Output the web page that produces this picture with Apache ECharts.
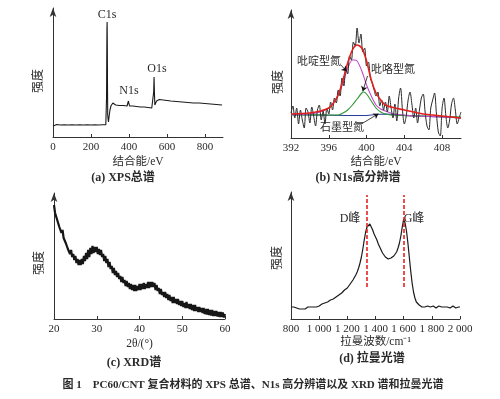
<!DOCTYPE html>
<html>
<head>
<meta charset="utf-8">
<script src="https://cdn.jsdelivr.net/npm/echarts@6/dist/echarts.min.js"></script>
<style>
html, body { margin: 0; padding: 0; background: #fff; }
#main { width: 500px; height: 399px; }
</style>
</head>
<body>
<div id="main"></div>
<script>
// (a) XPS 总谱
var xpsX = [0, 5, 10, 20, 40, 60, 80, 100, 120, 140, 160, 180, 200, 220, 240, 260, 278, 280, 282, 283, 284, 285, 286, 287, 288, 290, 292, 295, 300, 305, 310, 315, 320, 330, 340, 350, 360, 370, 380, 390, 395, 397, 399, 401, 403, 410, 420, 440, 460, 480, 500, 520, 526, 528, 530, 532, 534, 536, 540, 545, 550, 555, 560, 580, 600, 620, 650, 680, 710, 740, 770, 800, 830, 860, 890];
var xpsY = [11, 12, 13, 12.5, 12, 12.3, 12, 12.2, 12, 12.3, 12, 12.2, 12, 12.3, 12, 12.2, 12.3, 14, 40, 80, 108, 115, 90, 50, 22, 18, 15, 20, 27, 31, 33, 34, 33, 32, 31.5, 31.5, 31, 31.5, 31, 31, 32, 36, 38, 34, 31, 30.5, 31, 30.5, 30, 30, 29.5, 29, 29, 30, 45, 60, 45, 32, 33, 36, 37, 38, 37.5, 37, 36.5, 36, 35.5, 35, 34.5, 34, 34, 33.5, 33, 32.5, 32];
var xpsPeaks = [['C1s', 285, 115], ['N1s', 399, 38], ['O1s', 532, 60]];

// (b) N1s 高分辨谱
var n1sStart = 392, n1sStep = 0.2;
var n1sRaw = [25, 32, 20, 30, 14, 28, 18, 10, 30, 26,
  15, 31, 22, 12, 28, 33, 18, 27, 14, 30,
  24, 36, 28, 40, 35, 48, 42, 60, 52, 70,
  64, 82, 78, 96, 92, 110, 95, 104, 86, 90,
  72, 76, 60, 55, 48, 42, 46, 32, 38, 28,
  36, 26, 42, 30, 20, 34, 17, 40, 50, 28,
  14, 22, 38, 46, 34, 20, 30, 15, 28, 40,
  44, 26, 12, 8, 30, 38, 45, 24, 6, 2,
  30, 40, 22, 10, 18, 34, 40, 28, 14, 20, 26];
var fitX = [392, 394, 395, 396, 396.5, 397, 397.5, 398, 398.5, 399, 399.5, 400, 400.5, 401, 401.5, 402, 403, 404, 405, 406, 407, 408, 409, 410];
var fitTotal = [24, 25, 26.7, 30, 35, 43, 58, 75, 88, 93, 90, 77, 58, 45, 38, 33, 30, 28, 26, 24, 23, 22, 21, 20];
var pyridX = [392, 394, 395, 396, 396.5, 397, 397.5, 398, 398.5, 398.7, 399, 399.5, 400, 400.5, 401, 401.5, 402, 403, 404, 405, 406, 408, 410];
var pyridY = [23.3, 24, 25.7, 30, 35, 43, 55, 70, 78, 78, 77, 67, 53, 42, 33, 29, 27, 24, 23, 22, 21.7, 21, 20];
var pyrrolX = [392, 396, 397, 397.5, 398, 398.5, 399, 399.5, 399.7, 400, 400.5, 401, 401.5, 402, 403, 410];
var pyrrolY = [23.3, 23, 23, 25, 28, 33, 39, 45, 46, 44, 37, 30, 26, 24, 22.7, 21];
var graphX = [392, 398, 400, 401, 402, 403, 404, 410];
var graphY = [23.3, 22.5, 22.5, 23.5, 24, 23.5, 22.5, 20.3];
var n1sNotes = [
  ['吡啶型氮', [397.28, 73], [397.9, 66.7]],
  ['吡咯型氮', [400.1, 62], [399.6, 46.7]],
  ['石墨型氮', [399.5, 14.3], [401.26, 24.3]]
];

// (c) XRD 谱, 2θ 20~60 步长 0.25
var xrdStart = 20, xrdStep = 0.25;
var xrdRaw = [114, 106, 107, 99, 100, 92, 93, 86, 89, 81, 82, 76, 76, 70, 71, 65,
  69, 62, 65, 59, 63, 56, 60, 54, 59, 54, 60, 55, 63, 58, 66, 60,
  69, 62, 71, 65, 73, 66, 72, 67, 72, 65, 70, 64, 69, 62, 65, 58,
  63, 56, 60, 52, 57, 50, 53, 46, 51, 44, 48, 42, 46, 40, 43, 37,
  42, 36, 39, 33, 38, 32, 36, 30, 35, 29, 34, 28, 34, 28, 33, 29,
  35, 29, 35, 30, 36, 30, 35, 31, 37, 31, 37, 32, 37, 32, 36, 29,
  34, 28, 31, 25, 30, 24, 27, 22, 27, 21, 25, 19, 24, 18, 22, 16,
  22, 16, 20, 15, 20, 14, 18, 13, 18, 12, 16, 11, 17, 11, 15, 10,
  15, 9, 14, 8, 14, 8, 12, 7, 12, 7, 11, 6, 11, 5, 10, 4.5,
  10, 4, 9, 3.5, 9, 3, 8, 3, 8, 2.5, 7, 2, 7, 2, 6.5, 1.5, 5];

// (d) 拉曼光谱, 800~2000 步长 10
var ramanStart = 800, ramanStep = 10;
var ramanRaw = [12, 11, 12, 13, 11, 12, 10, 11, 10, 11,
  10, 11, 12, 11, 12, 13, 12, 13, 12, 14,
  13, 14, 15, 14, 16, 16, 17, 17, 19, 18,
  20, 21, 22, 22, 24, 25, 26, 27, 29, 29,
  31, 33, 35, 36, 39, 41, 44, 47, 51, 56,
  62, 70, 79, 87, 92, 93, 95, 92, 89, 85,
  82, 79, 75, 72, 69, 66, 64, 62, 61, 60,
  59, 61, 61, 63, 65, 67, 71, 76, 83, 92,
  100, 96, 88, 76, 62, 48, 36, 27, 21, 17,
  15, 14, 13, 12, 13, 12, 12, 13, 11, 12,
  12, 13, 12, 11, 12, 13, 12, 12, 11, 12,
  13, 12, 12, 11, 12, 13, 12, 11, 12, 12, 12];
var ramanPeaks = [['D峰', 1340], ['G峰', 1600]];
var ramanDashY = [32, 124];

var serif = "'Liberation Serif', 'Noto Sans CJK SC', serif";
var textColor = '#2a2a2a';

function pairs(xs, ys) {
    return xs.map(function (x, i) { return [x, ys[i]]; });
}
function stepPairs(start, step, ys) {
    return ys.map(function (y, i) { return [+(start + i * step).toFixed(3), y]; });
}

var grids = [
    { left: 53, top: 8, width: 170, height: 129 },
    { left: 291, top: 10, width: 170, height: 128 },
    { left: 54, top: 193, width: 171, height: 126 },
    { left: 291, top: 192, width: 169, height: 127 }
];

function xAxisOf(idx, min, max, interval, name, gap, showMax, fmt) {
    return {
        type: 'value', gridIndex: idx, min: min, max: max, interval: interval,
        name: name, nameLocation: 'middle', nameGap: gap,
        nameTextStyle: { fontFamily: serif, fontSize: 11.5, color: textColor },
        axisLine: { lineStyle: { color: '#333', width: 1 } },
        axisTick: { inside: true, length: 3, lineStyle: { color: '#333' } },
        axisLabel: { margin: 5, fontFamily: serif, fontSize: 11, color: textColor, formatter: fmt, showMaxLabel: showMax },
        splitLine: { show: false }
    };
}
function yAxisOf(idx, max) {
    return {
        type: 'value', gridIndex: idx, min: 0, max: max,
        axisLine: { show: true, symbol: ['none', 'arrow'], symbolSize: [5, 9], lineStyle: { color: '#333', width: 1 } },
        axisTick: { show: false },
        axisLabel: { show: false },
        splitLine: { show: false }
    };
}

function thousands(v) {
    var s = String(v);
    return s.length > 3 ? s.slice(0, s.length - 3) + ' ' + s.slice(-3) : s;
}

function lineSeries(idx, data, color, width, smooth) {
    return {
        type: 'line', xAxisIndex: idx, yAxisIndex: idx, data: data,
        showSymbol: false, smooth: smooth || false, animation: false,
        lineStyle: { color: color, width: width }
    };
}

var n1sSeries = lineSeries(1, stepPairs(n1sStart, n1sStep, n1sRaw), '#2b2b2b', 1, 0.3);
var arrowSeries = lineSeries(1, [], '#000', 1);
arrowSeries.markLine = {
    silent: true, animation: false, symbol: ['none', 'arrow'], symbolSize: 5,
    label: { show: false },
    lineStyle: { color: '#111', width: 0.8, type: 'solid' },
    data: n1sNotes.map(function (n) { return [{ coord: n[1] }, { coord: n[2] }]; })
};

var ramanSeries = lineSeries(3, stepPairs(ramanStart, ramanStep, ramanRaw), '#1a1a1a', 1.2);
ramanSeries.markLine = {
    silent: true, animation: false, symbol: ['none', 'none'],
    label: { show: false },
    lineStyle: { color: '#e32424', width: 1.6, type: [4, 2] },
    data: ramanPeaks.map(function (p) { return [{ coord: [p[1], ramanDashY[0]] }, { coord: [p[1], ramanDashY[1]] }]; })
};

function txt(x, y, text, size, opts) {
    opts = opts || {};
    return {
        type: 'text', x: x, y: y, rotation: opts.rotation || 0, silent: true,
        style: {
            text: text, fill: opts.color || textColor,
            font: (opts.bold ? 'bold ' : '') + size + 'px ' + serif,
            textAlign: 'center', textVerticalAlign: 'middle'
        }
    };
}

var chart = echarts.init(document.getElementById('main'));
chart.setOption({
    backgroundColor: '#fff',
    animation: false,
    grid: grids,
    xAxis: [
        xAxisOf(0, 0, 895, 200, '结合能/eV', 19, false),
        xAxisOf(1, 392, 410, 4, '结合能/eV', 18, false),
        xAxisOf(2, 20, 60, 10, '2θ/(°)', 19, true),
        xAxisOf(3, 800, 2000, 200, '拉曼波数/cm⁻¹', 17, true, thousands)
    ],
    yAxis: [yAxisOf(0, 129), yAxisOf(1, 128), yAxisOf(2, 126), yAxisOf(3, 127)],
    series: [
        lineSeries(0, pairs(xpsX, xpsY), '#1a1a1a', 1.1),
        lineSeries(1, pairs(graphX, graphY), '#2c3d98', 1.2),
        lineSeries(1, pairs(pyrrolX, pyrrolY), '#2f9a35', 1.1, 0.3),
        lineSeries(1, pairs(pyridX, pyridY), '#c24dc8', 1.1, 0.3),
        n1sSeries,
        lineSeries(1, pairs(fitX, fitTotal), '#e0221f', 1.6, 0.3),
        arrowSeries,
        lineSeries(2, stepPairs(xrdStart, xrdStep, xrdRaw), '#161616', 2.2),
        ramanSeries
    ],
    graphic: [
        // 纵轴名
        txt(39, 81, '强度', 12, { rotation: Math.PI / 2 }),
        txt(279, 82, '强度', 12, { rotation: Math.PI / 2 }),
        txt(40, 263, '强度', 12, { rotation: Math.PI / 2 }),
        txt(278, 258, '强度', 12, { rotation: Math.PI / 2 }),
        // 峰标注
        txt(107, 15, xpsPeaks[0][0], 12),
        txt(129, 91, xpsPeaks[1][0], 12),
        txt(157, 69, xpsPeaks[2][0], 12),
        txt(319, 62, n1sNotes[0][0], 11),
        txt(393, 70, n1sNotes[1][0], 11),
        txt(342, 128, n1sNotes[2][0], 11),
        txt(350, 219, ramanPeaks[0][0], 12),
        txt(414, 219, ramanPeaks[1][0], 12),
        // 分图标题
        txt(123, 178, '(a) XPS总谱', 12, { bold: true }),
        txt(358, 178, '(b) N1s高分辨谱', 12, { bold: true }),
        txt(134, 363, '(c) XRD谱', 12, { bold: true }),
        txt(372, 359, '(d) 拉曼光谱', 12, { bold: true }),
        txt(253, 385, '图 1　PC60/CNT 复合材料的 XPS 总谱、N1s 高分辨谱以及 XRD 谱和拉曼光谱', 11, { bold: true })
    ]
});
</script>
</body>
</html>
